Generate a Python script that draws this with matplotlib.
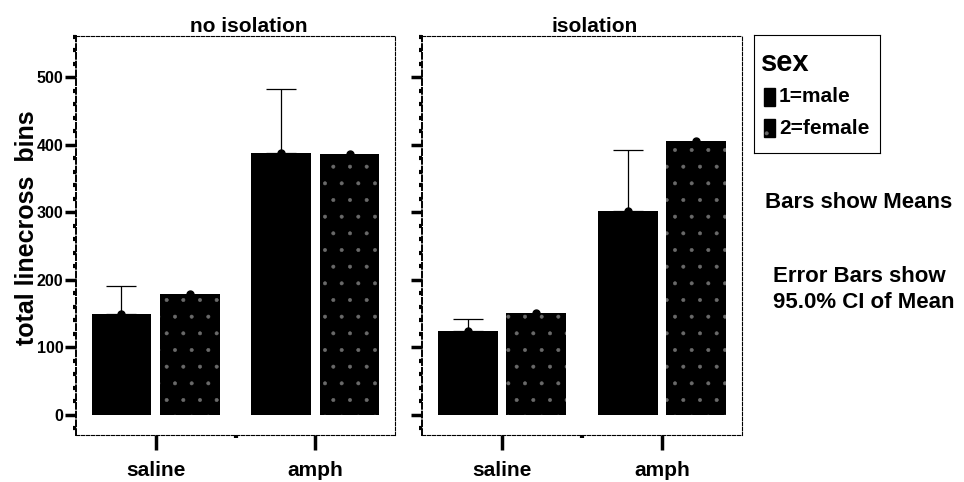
# Bar chart of mean linecross bins by drug, sex and isolation

import numpy as np
import matplotlib.pyplot as plt

plt.rcParams['font.family'] = ['Liberation Sans', 'DejaVu Sans']
plt.rcParams['font.weight'] = 'bold'
plt.rcParams['hatch.linewidth'] = 0.4

# Data
panels = ['no isolation', 'isolation']
drugs = ['saline', 'amph']
sex_labels = ['1=male', '2=female']
male_mean = [[149, 388], [124, 302]]
male_ci_upper = [[191, 482], [142, 393]]
female_mean = [[179, 386], [151, 405]]
female_ci_upper = [[179, 386], [151, 405]]
yticks = [0, 100, 200, 300, 400, 500]

fig = plt.figure(figsize=(9.64, 4.82), dpi=100)
ax1 = fig.add_axes([0.0788, 0.0975, 0.331, 0.8275])
ax2 = fig.add_axes([0.4378, 0.0975, 0.332, 0.8275])

x = np.arange(len(drugs))
w = 0.375
off = 0.215
speck = '#6a6a6a'

for i, ax in enumerate([ax1, ax2]):
    m = np.array(male_mean[i])
    f = np.array(female_mean[i])
    ax.bar(x - off, m, w, color='black', linewidth=0)
    ax.bar(x + off, f, w, color='black', linewidth=0)
    # speckled fill for females
    ax.bar(x + off, f, w, color='none', edgecolor=speck, linewidth=0, hatch='.')
    ax.errorbar(x - off, m, yerr=[np.zeros(2), np.array(male_ci_upper[i]) - m],
                fmt='o', color='black', ms=5, elinewidth=0.9, capsize=11, capthick=0.9)
    ax.errorbar(x + off, f, yerr=[np.zeros(2), np.array(female_ci_upper[i]) - f],
                fmt='o', color='black', ms=5, elinewidth=0.9, capsize=0)

    ax.set_xlim(-0.5, 1.5)
    ax.set_ylim(-30, 561)
    ax.set_yticks(yticks)
    ax.set_yticks(np.arange(-20, 561, 20), minor=True)
    ax.set_xticks(x)
    ax.set_xticks([0.5], minor=True)
    ax.set_xticklabels(drugs, fontsize=15, fontweight='bold')
    ax.tick_params(axis='y', which='major', length=8, width=2.5, labelsize=11.5, pad=1)
    ax.tick_params(axis='y', which='minor', length=2.5, width=3)
    ax.tick_params(axis='x', which='major', length=11, width=2.5, pad=8)
    ax.tick_params(axis='x', which='minor', length=2.5, width=3)
    for s in ax.spines.values():
        s.set_linestyle((0, (3, 1.5)))
        s.set_linewidth(0.8)
    ax.spines['left'].set_linewidth(1.4)
    ax.set_title(panels[i], fontsize=15, fontweight='bold', x=0.54, pad=3)

ax1.set_ylabel('total linecross  bins', fontsize=18, fontweight='bold')
ax1.yaxis.set_label_coords(-0.116, 0.519)
ax2.set_yticklabels([])

# Legend box
leg_ax = fig.add_axes([754 / 964, 1 - 153 / 482, 126 / 964, 118 / 482])
leg_ax.set_xticks([])
leg_ax.set_yticks([])
for s in leg_ax.spines.values():
    s.set_linewidth(0.8)
leg_ax.set_xlim(0, 126)
leg_ax.set_ylim(118, 0)
leg_ax.text(7, 28, 'sex', fontsize=21, fontweight='bold', va='center')
leg_ax.add_patch(plt.Rectangle((10, 53), 11, 18, color='black'))
leg_ax.text(25, 62, sex_labels[0], fontsize=15, fontweight='bold', va='center')
leg_ax.add_patch(plt.Rectangle((10, 84), 11, 18, color='black'))
leg_ax.add_patch(plt.Rectangle((10, 84), 11, 18, facecolor='none', edgecolor=speck,
                               linewidth=0, hatch='.'))
leg_ax.text(25, 93, sex_labels[1], fontsize=15, fontweight='bold', va='center', clip_on=False)

fig.text(765 / 964, 1 - 203 / 482, 'Bars show Means', fontsize=16, fontweight='bold', va='center')
fig.text(773 / 964, 1 - 277 / 482, 'Error Bars show', fontsize=16, fontweight='bold', va='center')
fig.text(773 / 964, 1 - 303 / 482, '95.0% CI of Mean', fontsize=16, fontweight='bold', va='center')

plt.savefig('out.png', dpi=100)
